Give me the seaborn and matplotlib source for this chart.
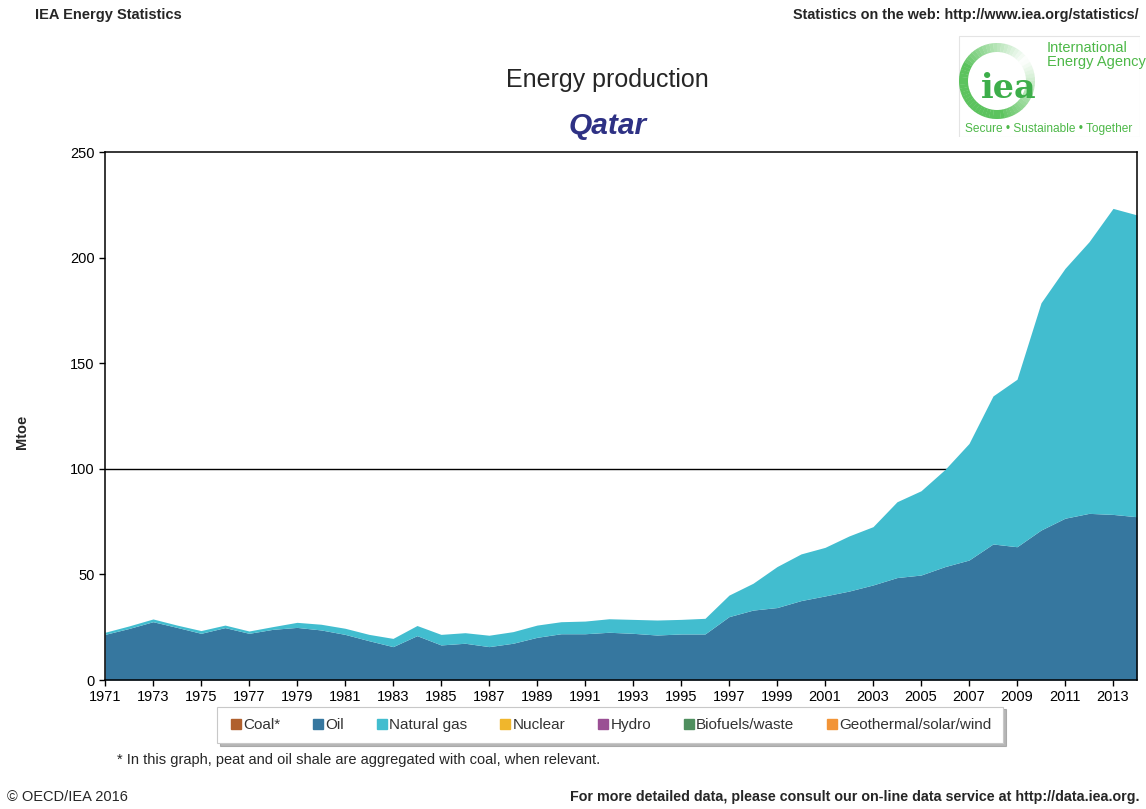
import numpy as np
import pandas as pd
import matplotlib
matplotlib.use("Agg")
import matplotlib.pyplot as plt
from matplotlib.patches import Rectangle, Wedge
from matplotlib.lines import Line2D
import matplotlib.colors as mcolors
import seaborn as sns

# data (Mtoe)
years = list(range(1971, 2015))
oil = [21.6, 24.4, 27.6, 24.9, 22.1, 24.8, 22.1, 24.0, 24.9, 23.7,
       21.6, 18.6, 15.8, 21.0, 16.6, 17.4, 15.8, 17.4, 20.2, 21.9,
       21.9, 22.6, 22.1, 21.3, 21.8, 21.8, 30.0, 33.1, 34.3, 37.6,
       39.8, 42.1, 45.0, 48.5, 49.7, 53.7, 56.8, 64.4, 63.1, 71.0,
       76.6, 78.9, 78.4, 77.3]
total = [22.6, 25.6, 28.9, 26.0, 23.4, 26.0, 23.2, 25.3, 27.3, 26.4,
         24.5, 21.6, 19.7, 25.8, 21.6, 22.4, 21.2, 22.9, 26.0, 27.6,
         27.9, 29.0, 28.7, 28.4, 28.7, 29.2, 40.2, 45.8, 53.7, 59.7,
         62.8, 68.2, 72.6, 84.4, 89.6, 99.7, 112.0, 134.5, 142.4, 178.6,
         194.9, 207.5, 223.3, 220.2]
gas = [round(t - o, 1) for t, o in zip(total, oil)]

legend_labels = ["Coal*", "Oil", "Natural gas", "Nuclear", "Hydro",
                 "Biofuels/waste", "Geothermal/solar/wind"]
legend_colors = ["#B0602E", "#36779F", "#42BDCF", "#F0B62C", "#9A4F94",
                 "#4F8F5F", "#F29437"]
tick_years = list(range(1971, 2014, 2))

df = pd.DataFrame({"year": years, "Oil": oil, "Natural gas": gas})

sns.set_style("white")
plt.rcParams["font.family"] = ["Liberation Sans", "DejaVu Sans"]

fig = plt.figure(figsize=(11.46, 8.09), dpi=100)
ax = fig.add_axes([105 / 1146, 1 - 680 / 809, 1032 / 1146, 528 / 809])

ax.axhline(100, color="black", lw=1, zorder=1)
ax.stackplot(df["year"], df["Oil"], df["Natural gas"],
             colors=[legend_colors[1], legend_colors[2]], lw=0, zorder=2)

ax.set_xlim(1971, 2014)
ax.set_ylim(0, 250)
ax.set_yticks(range(0, 251, 50))
ax.set_xticks(tick_years)
ax.set_xticklabels([str(y) for y in tick_years])
ax.tick_params(axis="both", labelsize=10.5, colors="black", length=4,
               width=1, direction="out", bottom=True, left=True)
ax.tick_params(axis="x", pad=3)
for s in ax.spines.values():
    s.set_color("black")
    s.set_linewidth(1.1)
    s.set_zorder(3)
ax.set_xlabel(None)
ax.set_ylabel(None)

fig.text(22 / 1146, 1 - 432 / 809, "Mtoe", rotation=90, ha="center",
         va="center", fontsize=10.5, fontweight="bold")

# titles
fig.text(607 / 1146, 1 - 80 / 809, "Energy production", ha="center",
         va="center", fontsize=18)
fig.text(608 / 1146, 1 - 126 / 809, "Qatar", ha="center", va="center",
         fontsize=21.5, fontweight="bold", fontstyle="italic", color="#2E3184")

# header / footer
fig.text(35 / 1146, 1 - 15 / 809, "IEA Energy Statistics", ha="left",
         va="center", fontsize=10.5, fontweight="bold")
fig.text(1139 / 1146, 1 - 15 / 809,
         "Statistics on the web: http://www.iea.org/statistics/",
         ha="right", va="center", fontsize=10.4, fontweight="bold")
fig.text(117 / 1146, 1 - 760 / 809,
         "* In this graph, peat and oil shale are aggregated with coal, when relevant.",
         ha="left", va="center", fontsize=10.5)
fig.text(7 / 1146, 1 - 797 / 809, "\u00a9 OECD/IEA 2016", ha="left",
         va="center", fontsize=10.5)
fig.text(1140 / 1146, 1 - 797 / 809,
         "For more detailed data, please consult our on-line data service at http://data.iea.org.",
         ha="right", va="center", fontsize=10.3, fontweight="bold")

# legend
handles = [Line2D([], [], marker="s", ls="", color=c, markersize=6.5)
           for c in legend_colors]
leg = fig.legend(handles, legend_labels, loc="center", ncol=7,
                 bbox_to_anchor=(610 / 1146, 1 - 725 / 809), fontsize=11,
                 frameon=True, fancybox=False,
                 shadow={"color": "#888888", "alpha": 0.6},
                 edgecolor="#c8c8c8", handletextpad=0.0, columnspacing=1.95,
                 handlelength=1.0, borderpad=0.75, borderaxespad=0)
leg.get_frame().set_linewidth(0.8)
for t in leg.get_texts():
    t.set_color("#333333")

# logo
lax = fig.add_axes([958 / 1146, 1 - 137 / 809, 182 / 1146, 102 / 809])
lax.set_xlim(0, 182)
lax.set_ylim(102, 0)
lax.axis("off")
lax.add_patch(Rectangle((0.5, 0.5), 181, 101, fill=False, ec="#e4e4e4", lw=0.8))
green = np.array(mcolors.to_rgb("#5CC35E"))
white = np.array([1.0, 1.0, 1.0])
# ring drawn in slices, solid on the left, fading towards the upper right
for a in range(0, 360, 6):
    ang = (a + 90) % 360
    d = abs(((a - 230) + 180) % 360 - 180) / 180.0
    mix = min(1.0, d * 1.6)
    col = white * (1 - mix) + green * mix
    col = white * 0.08 + col * 0.92 if mix < 1 else col
    lax.add_patch(Wedge((39, 46), 38, ang, ang + 6.5, width=9,
                        color=tuple(col), lw=0))
lax.text(51, 53, "iea", ha="center", va="center", fontsize=24,
         fontweight="bold", color="#3DAE4A", family=["DejaVu Serif"])
lax.text(89, 20, "International\nEnergy Agency", ha="left", va="center",
         fontsize=10.5, color="#4DB848", linespacing=1.05)
lax.text(91, 94, "Secure \u2022 Sustainable \u2022 Together", ha="center",
         va="center", fontsize=8.6, color="#4DB848")

fig.savefig("out.png", dpi=100)
